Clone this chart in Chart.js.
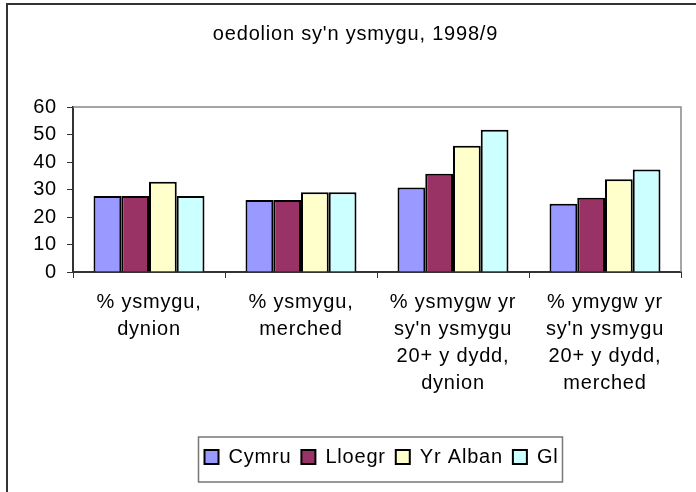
<!DOCTYPE html>
<html>
<head>
<meta charset="utf-8">
<script src="https://cdn.jsdelivr.net/npm/chart.js@4"></script>
<style>
    html, body { margin: 0; padding: 0; background: #fff; }
    #wrap { width: 696px; height: 492px; }
</style>
</head>
<body>
<div id="wrap"><canvas id="chart" width="696" height="492"></canvas></div>
<script>
// Data
const categories = [
    ['% ysmygu,', 'dynion'],
    ['% ysmygu,', 'merched'],
    ['% ysmygw yr', "sy'n ysmygu", '20+ y dydd,', 'dynion'],
    ['% ymygw yr', "sy'n ysmygu", '20+ y dydd,', 'merched']
];
const cymru = [27.6, 26.2, 30.7, 24.8];
const lloegr = [27.6, 26.2, 35.7, 27];
const yrAlban = [32.8, 29, 45.9, 33.7];
const gl = [27.6, 29, 51.7, 37.3];
const yTicks = [0, 10, 20, 30, 40, 50, 60];

const FONT = "'Liberation Sans', Arial, sans-serif";
const SPACING = '0.8px';

// frame round the whole chart, the plot area and the legend
const framePlugin = {
    id: 'frames',
    beforeUpdate(chart) {
        // the original text is set a bit looser than the canvas default
        chart.ctx.letterSpacing = SPACING;
    },
    afterLayout(chart) {
        // legend and title sit a little right of centre in the original
        const lg = chart.legend;
        lg.left += 41;
        lg.right += 41;
        const tb = chart.titleBlock;
        tb.left += 15;
        tb.right += 15;
    },
    beforeDraw(chart) {
        const ctx = chart.ctx;
        ctx.letterSpacing = SPACING;
        ctx.save();
        ctx.fillStyle = '#fff';
        ctx.fillRect(0, 0, chart.width, chart.height);
        ctx.strokeStyle = '#333';
        ctx.lineWidth = 2;
        ctx.strokeRect(7, 4, 760, 560);
        ctx.restore();
    },
    afterDraw(chart) {
        const ctx = chart.ctx;
        const a = chart.chartArea;
        ctx.save();
        ctx.strokeStyle = '#888';
        ctx.lineWidth = 1.5;
        ctx.beginPath();
        ctx.moveTo(a.left, a.top);
        ctx.lineTo(a.right, a.top);
        ctx.lineTo(a.right, a.bottom);
        ctx.stroke();

        const boxes = chart.legend.legendHitBoxes;
        if (boxes && boxes.length) {
            const x0 = Math.min(...boxes.map(b => b.left)) - 6;
            const x1 = Math.max(...boxes.map(b => b.left + b.width)) + 4;
            const top = chart.legend.top;
            ctx.strokeStyle = '#777';
            ctx.lineWidth = 1.5;
            ctx.strokeRect(x0, top, x1 - x0, 45);
        }
        ctx.restore();
    }
};

const barStyle = {
    borderColor: '#000',
    borderWidth: 2,
    barPercentage: 1,
    categoryPercentage: 0.73
};

new Chart(document.getElementById('chart'), {
    type: 'bar',
    data: {
        labels: categories,
        datasets: [
            { label: 'Cymru', data: cymru, backgroundColor: '#9999FF', ...barStyle },
            { label: 'Lloegr', data: lloegr, backgroundColor: '#993366', ...barStyle },
            { label: 'Yr Alban', data: yrAlban, backgroundColor: '#FFFFCC', ...barStyle },
            { label: 'Gl', data: gl, backgroundColor: '#CCFFFF', ...barStyle }
        ]
    },
    options: {
        responsive: false,
        animation: false,
        layout: { padding: { left: 0, right: 15, top: 0, bottom: 15 } },
        plugins: {
            title: {
                display: true,
                text: "oedolion sy'n ysmygu, 1998/9",
                color: '#000',
                font: { family: FONT, size: 20, weight: 'normal', lineHeight: 1.2 },
                padding: { top: 22, bottom: 61 }
            },
            legend: {
                position: 'bottom',
                labels: {
                    color: '#000',
                    font: { family: FONT, size: 20 },
                    boxWidth: 14,
                    boxHeight: 14,
                    padding: 10
                }
            },
            tooltip: { enabled: false }
        },
        scales: {
            x: {
                grid: {
                    drawOnChartArea: false,
                    drawTicks: true,
                    tickLength: 6,
                    color: '#333',
                    offset: true
                },
                border: { color: '#333', width: 2 },
                ticks: {
                    color: '#000',
                    font: { family: FONT, size: 20, lineHeight: 1.35 },
                    padding: 11,
                    maxRotation: 0,
                    autoSkip: false
                },
                afterFit(scale) { scale.height = 165; }
            },
            y: {
                min: 0,
                max: 60,
                afterBuildTicks(scale) {
                    scale.ticks = yTicks.map(v => ({ value: v }));
                },
                grid: {
                    drawOnChartArea: false,
                    drawTicks: true,
                    tickLength: 6,
                    color: '#333'
                },
                border: { color: '#333', width: 2 },
                ticks: {
                    color: '#000',
                    font: { family: FONT, size: 20 },
                    padding: 10
                },
                afterFit(scale) { scale.width = 73; }
            }
        }
    },
    plugins: [framePlugin]
});
</script>
</body>
</html>
